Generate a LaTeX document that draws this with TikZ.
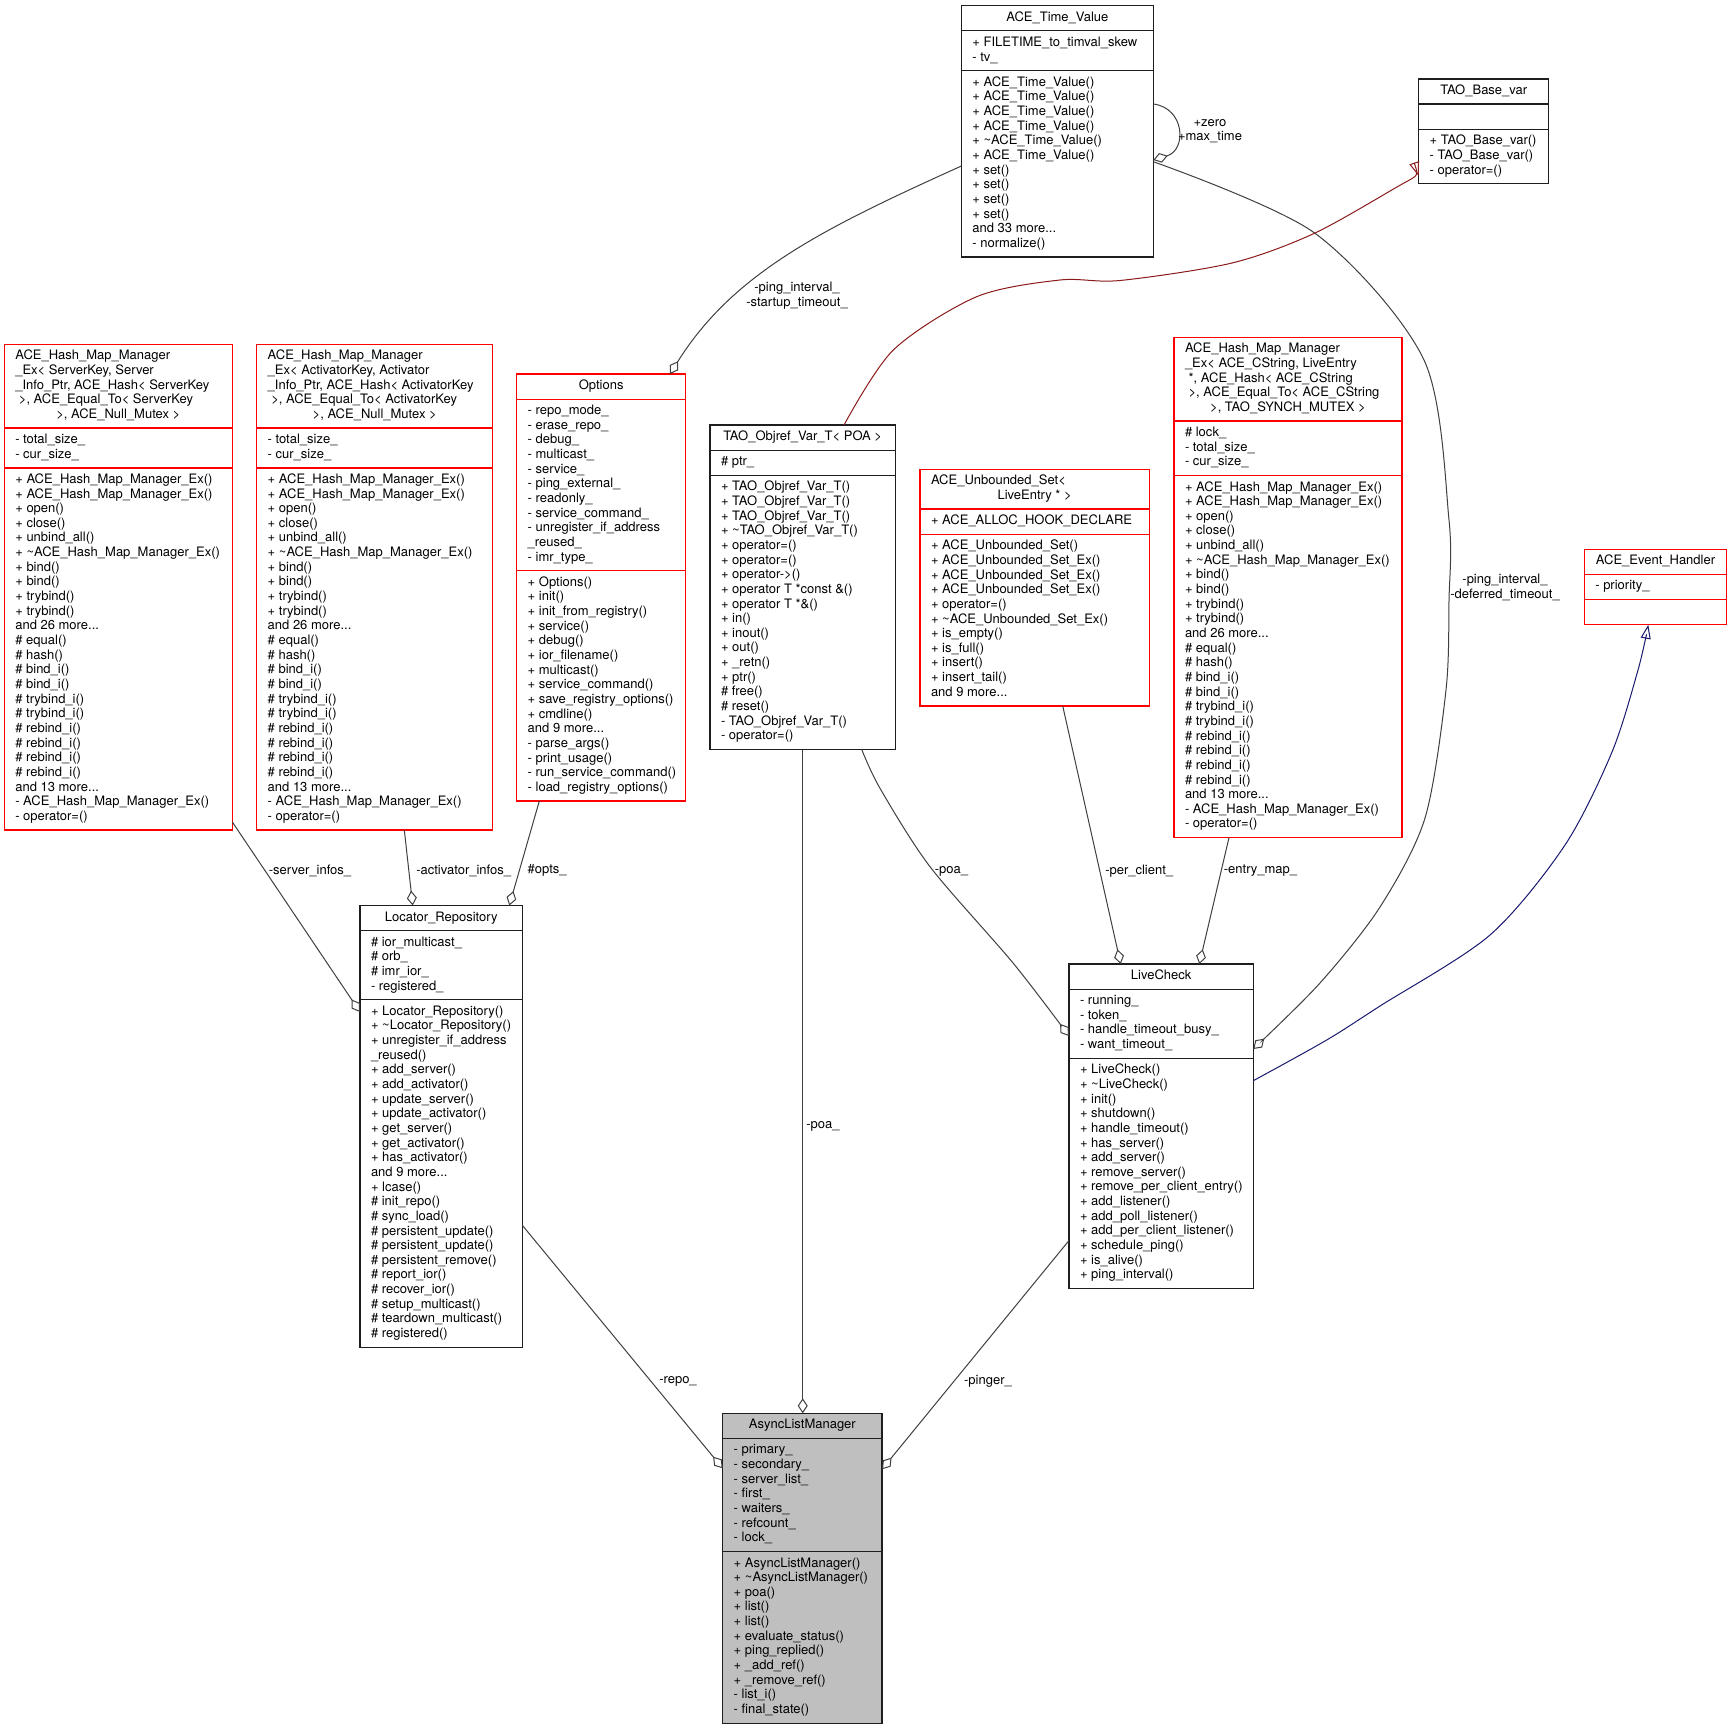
\documentclass[tikz,border=0pt]{standalone}
\usepackage{fontspec}
\setmainfont{TeX Gyre Heros}
\usepackage{array}
\usetikzlibrary{arrows.meta,calc,fit}
\definecolor{edgegray}{RGB}{64,64,64}
\definecolor{inhred}{RGB}{139,26,26}
\definecolor{inhblue}{RGB}{25,25,112}
\definecolor{mainfill}{RGB}{191,191,191}
\definecolor{boxblack}{RGB}{30,30,30}
\tikzset{
  sect/.style={draw, line width=1.3pt, inner xsep=11pt, inner ysep=5.25pt, outer sep=0pt,
    anchor=north west, fill=white, font=\fontsize{13}{14.65}\selectfont},
  blackbox/.style={draw=boxblack},
  redbox/.style={draw=red},
  mainbox/.style={draw=boxblack, fill=mainfill},
  agg/.style={draw=edgegray, line width=1pt, -{Diamond[open,length=15pt,width=10pt]}},
  inhr/.style={draw=inhred, line width=1pt, -{Triangle[open,length=14pt,width=10pt]}},
  inhb/.style={draw=inhblue, line width=1pt, -{Triangle[open,length=14pt,width=10pt]}},
  lbl/.style={font=\fontsize{13}{14.65}\selectfont, align=center, inner sep=0pt}
}
\newcommand\ctr[1]{\makebox[\tw pt][c]{#1}}
\newcommand\umlclass[7]{%
  \pgfmathsetmacro\tw{#4-22}%
  \node[sect,#2,minimum width=#4pt] (#1t) at #3 {\begin{tabular}{@{}w{l}{\tw pt}@{}}#5\end{tabular}};
  \node[sect,#2,minimum width=#4pt] (#1a) at (#1t.south west) {\begin{tabular}{@{}w{l}{\tw pt}@{}}#6\end{tabular}};
  \node[sect,#2,minimum width=#4pt] (#1m) at (#1a.south west) {\begin{tabular}{@{}w{l}{\tw pt}@{}}#7\end{tabular}};
  \node[fit=(#1t)(#1m),inner sep=0pt,outer sep=0pt] (#1) {};
}
\begin{document}
\catcode`\_=12
\begin{tikzpicture}[x=1pt,y=-1pt]
\fill[white] (0,0) rectangle (1732,1731);
\useasboundingbox (0,0) rectangle (1732,1731);

% ---------------- classes ----------------
\umlclass{ATV}{blackbox}{(961.4,5.7)}{191.9}
 {\ctr{ACE_Time_Value}}
 {+ FILETIME_to_timval_skew\\- tv_}
 {+ ACE_Time_Value()\\+ ACE_Time_Value()\\+ ACE_Time_Value()\\+ ACE_Time_Value()\\+ \textasciitilde ACE_Time_Value()\\+ ACE_Time_Value()\\+ set()\\+ set()\\+ set()\\+ set()\\and 33 more...\\- normalize()}

\umlclass{TBV}{blackbox}{(1418.7,79)}{130.1}
 {\ctr{TAO_Base_var}}
 {{}}
 {+ TAO_Base_var()\\- TAO_Base_var()\\- operator=()}

\umlclass{HMA}{redbox}{(4.3,344.3)}{228}
 {ACE_Hash_Map_Manager\\_Ex< ServerKey, Server\\_Info_Ptr, ACE_Hash< ServerKey\\\ >, ACE_Equal_To< ServerKey\\\ctr{>, ACE_Null_Mutex >}}
 {- total_size_\\- cur_size_}
 {+ ACE_Hash_Map_Manager_Ex()\\+ ACE_Hash_Map_Manager_Ex()\\+ open()\\+ close()\\+ unbind_all()\\+ \textasciitilde ACE_Hash_Map_Manager_Ex()\\+ bind()\\+ bind()\\+ trybind()\\+ trybind()\\and 26 more...\\\# equal()\\\# hash()\\\# bind_i()\\\# bind_i()\\\# trybind_i()\\\# trybind_i()\\\# rebind_i()\\\# rebind_i()\\\# rebind_i()\\\# rebind_i()\\and 13 more...\\- ACE_Hash_Map_Manager_Ex()\\- operator=()}

\umlclass{HMB}{redbox}{(256.7,344.3)}{236}
 {ACE_Hash_Map_Manager\\_Ex< ActivatorKey, Activator\\_Info_Ptr, ACE_Hash< ActivatorKey\\\ >, ACE_Equal_To< ActivatorKey\\\ctr{>, ACE_Null_Mutex >}}
 {- total_size_\\- cur_size_}
 {+ ACE_Hash_Map_Manager_Ex()\\+ ACE_Hash_Map_Manager_Ex()\\+ open()\\+ close()\\+ unbind_all()\\+ \textasciitilde ACE_Hash_Map_Manager_Ex()\\+ bind()\\+ bind()\\+ trybind()\\+ trybind()\\and 26 more...\\\# equal()\\\# hash()\\\# bind_i()\\\# bind_i()\\\# trybind_i()\\\# trybind_i()\\\# rebind_i()\\\# rebind_i()\\\# rebind_i()\\\# rebind_i()\\and 13 more...\\- ACE_Hash_Map_Manager_Ex()\\- operator=()}

\umlclass{OPT}{redbox}{(516.7,374)}{169}
 {\ctr{Options}}
 {- repo_mode_\\- erase_repo_\\- debug_\\- multicast_\\- service_\\- ping_external_\\- readonly_\\- service_command_\\- unregister_if_address\\_reused_\\- imr_type_}
 {+ Options()\\+ init()\\+ init_from_registry()\\+ service()\\+ debug()\\+ ior_filename()\\+ multicast()\\+ service_command()\\+ save_registry_options()\\+ cmdline()\\and 9 more...\\- parse_args()\\- print_usage()\\- run_service_command()\\- load_registry_options()}

\umlclass{TOV}{blackbox}{(710,425)}{185.3}
 {\ctr{TAO_Objref_Var_T< POA >}}
 {\# ptr_}
 {+ TAO_Objref_Var_T()\\+ TAO_Objref_Var_T()\\+ TAO_Objref_Var_T()\\+ \textasciitilde TAO_Objref_Var_T()\\+ operator=()\\+ operator=()\\+ operator->()\\+ operator T *const \&()\\+ operator T *\&()\\+ in()\\+ inout()\\+ out()\\+ _retn()\\+ ptr()\\\# free()\\\# reset()\\- TAO_Objref_Var_T()\\- operator=()}

\umlclass{AUS}{redbox}{(920,469.3)}{229.3}
 {ACE_Unbounded_Set<\\\ctr{LiveEntry * >}}
 {+ ACE_ALLOC_HOOK_DECLARE}
 {+ ACE_Unbounded_Set()\\+ ACE_Unbounded_Set_Ex()\\+ ACE_Unbounded_Set_Ex()\\+ ACE_Unbounded_Set_Ex()\\+ operator=()\\+ \textasciitilde ACE_Unbounded_Set_Ex()\\+ is_empty()\\+ is_full()\\+ insert()\\+ insert_tail()\\and 9 more...}

\umlclass{HMC}{redbox}{(1174,337.3)}{228}
 {ACE_Hash_Map_Manager\\_Ex< ACE_CString, LiveEntry\\\ *, ACE_Hash< ACE_CString\\\ >, ACE_Equal_To< ACE_CString\\\ctr{>, TAO_SYNCH_MUTEX >}}
 {\# lock_\\- total_size_\\- cur_size_}
 {+ ACE_Hash_Map_Manager_Ex()\\+ ACE_Hash_Map_Manager_Ex()\\+ open()\\+ close()\\+ unbind_all()\\+ \textasciitilde ACE_Hash_Map_Manager_Ex()\\+ bind()\\+ bind()\\+ trybind()\\+ trybind()\\and 26 more...\\\# equal()\\\# hash()\\\# bind_i()\\\# bind_i()\\\# trybind_i()\\\# trybind_i()\\\# rebind_i()\\\# rebind_i()\\\# rebind_i()\\\# rebind_i()\\and 13 more...\\- ACE_Hash_Map_Manager_Ex()\\- operator=()}

\umlclass{AEH}{redbox}{(1584.3,549.3)}{142.4}
 {\ctr{ACE_Event_Handler}}
 {- priority_}
 {{}}

\umlclass{LR}{blackbox}{(360,905.5)}{162.5}
 {\ctr{Locator_Repository}}
 {\# ior_multicast_\\\# orb_\\\# imr_ior_\\- registered_}
 {+ Locator_Repository()\\+ \textasciitilde Locator_Repository()\\+ unregister_if_address\\_reused()\\+ add_server()\\+ add_activator()\\+ update_server()\\+ update_activator()\\+ get_server()\\+ get_activator()\\+ has_activator()\\and 9 more...\\+ lcase()\\\# init_repo()\\\# sync_load()\\\# persistent_update()\\\# persistent_update()\\\# persistent_remove()\\\# report_ior()\\\# recover_ior()\\\# setup_multicast()\\\# teardown_multicast()\\\# registered()}

\umlclass{LC}{blackbox}{(1069,964)}{184.3}
 {\ctr{LiveCheck}}
 {- running_\\- token_\\- handle_timeout_busy_\\- want_timeout_}
 {+ LiveCheck()\\+ \textasciitilde LiveCheck()\\+ init()\\+ shutdown()\\+ handle_timeout()\\+ has_server()\\+ add_server()\\+ remove_server()\\+ remove_per_client_entry()\\+ add_listener()\\+ add_poll_listener()\\+ add_per_client_listener()\\+ schedule_ping()\\+ is_alive()\\+ ping_interval()}

\umlclass{ALM}{mainbox}{(722.7,1413.3)}{159.3}
 {\ctr{AsyncListManager}}
 {- primary_\\- secondary_\\- server_list_\\- first_\\- waiters_\\- refcount_\\- lock_}
 {+ AsyncListManager()\\+ \textasciitilde AsyncListManager()\\+ poa()\\+ list()\\+ list()\\+ evaluate_status()\\+ ping_replied()\\+ _add_ref()\\+ _remove_ref()\\- list_i()\\- final_state()}

% ---------------- connectors ----------------
\draw[agg] ($(ATV.north west)+(0,160.3)$) .. controls (824.7,227.8) and (733.6,272.2) .. ($(OPT.north west)+(153.3,0)$);
\draw[agg] ($(ATV.north east)+(0,98.3)$) .. controls (1185,108) and (1187,150) .. ($(ATV.north east)+(0,154.3)$);

\coordinate (e3s) at ($(ATV.north east)+(0,156)$);
\coordinate (e3e) at ($(LC.north east)+(0,85)$);
\draw[agg] plot[smooth] coordinates {(e3s) (1314.6,233) (1424,360) (1449,520) (1449,600) (1446,690) (1425,818) (1380,907) (1320,983) (e3e)};

\coordinate (e4s) at ($(TOV.north west)+(134,0)$);
\coordinate (e4e) at ($(TBV.north west)+(0,97)$);
\draw[inhr] plot[smooth] coordinates {(e4s) (893.3,350) (976.7,296.7) (1060,280) (1120,280.5) (1232,263) (1315,233) (1404,183) (e4e)};

\coordinate (e5s) at ($(LC.north east)+(0,116.7)$);
\coordinate (e5e) at ($(AEH.south west)+(64,0)$);
\draw[inhb] plot[smooth] coordinates {(e5s) (1326.7,1040) (1380,1006) (1490,935) (1565,845) (1612,752) (1638,670) (e5e)};

\coordinate (e6s) at ($(TOV.south west)+(151.7,0)$);
\coordinate (e6e) at ($(LC.north west)+(0,72)$);
\draw[agg] plot[smooth] coordinates {(e6s) (880,788.3) (930,866.7) (1013.3,963.3) (e6e)};

\draw[agg] ($(AUS.south west)+(142.7,0)$) -- ($(LC.north west)+(51.7,0)$);
\draw[agg] ($(HMC.south west)+(55,0)$) -- ($(LC.north west)+(130.3,0)$);
\draw[agg] ($(TOV.south west)+(92.7,0)$) -- ($(ALM.north west)+(80,0)$);
\draw[agg] ($(LR.north east)+(0,320)$) -- ($(ALM.north west)+(0,55)$);
\draw[agg] ($(LC.north west)+(0,276.5)$) -- ($(ALM.north east)+(0,56)$);
\draw[agg] ($(HMA.south east)+(0,-8)$) -- ($(LR.north west)+(0,106.5)$);
\draw[agg] ($(HMB.south west)+(147.6,0)$) -- ($(LR.north west)+(52.7,0)$);
\draw[agg] ($(OPT.south west)+(22.6,0)$) -- ($(LR.north west)+(149.3,0)$);

% ---------------- labels ----------------
\node[lbl] (l1) at (797,296) {-ping_interval_\\-startup_timeout_};
\node[lbl] (l2) at (1210,131.3) {+zero\\+max_time};
\node[lbl] (l3) at (1505,587.7) {-ping_interval_\\-deferred_timeout_};
\node[lbl] (l4) at (951.5,871) {-poa_};
\node[lbl] (l5) at (1139.2,871) {-per_client_};
\node[lbl] (l6) at (1260.5,871) {-entry_map_};
\node[lbl] (l7) at (823,1126) {-poa_};
\node[lbl] (l8) at (678,1381) {-repo_};
\node[lbl] (l9) at (988,1381) {-pinger_};
\node[lbl] (l10) at (310,870.7) {-server_infos_};
\node[lbl] (l11) at (463.7,870.7) {-activator_infos_};
\node[lbl] (l12) at (547.2,870.7) {\#opts_};
\end{tikzpicture}
\end{document}
